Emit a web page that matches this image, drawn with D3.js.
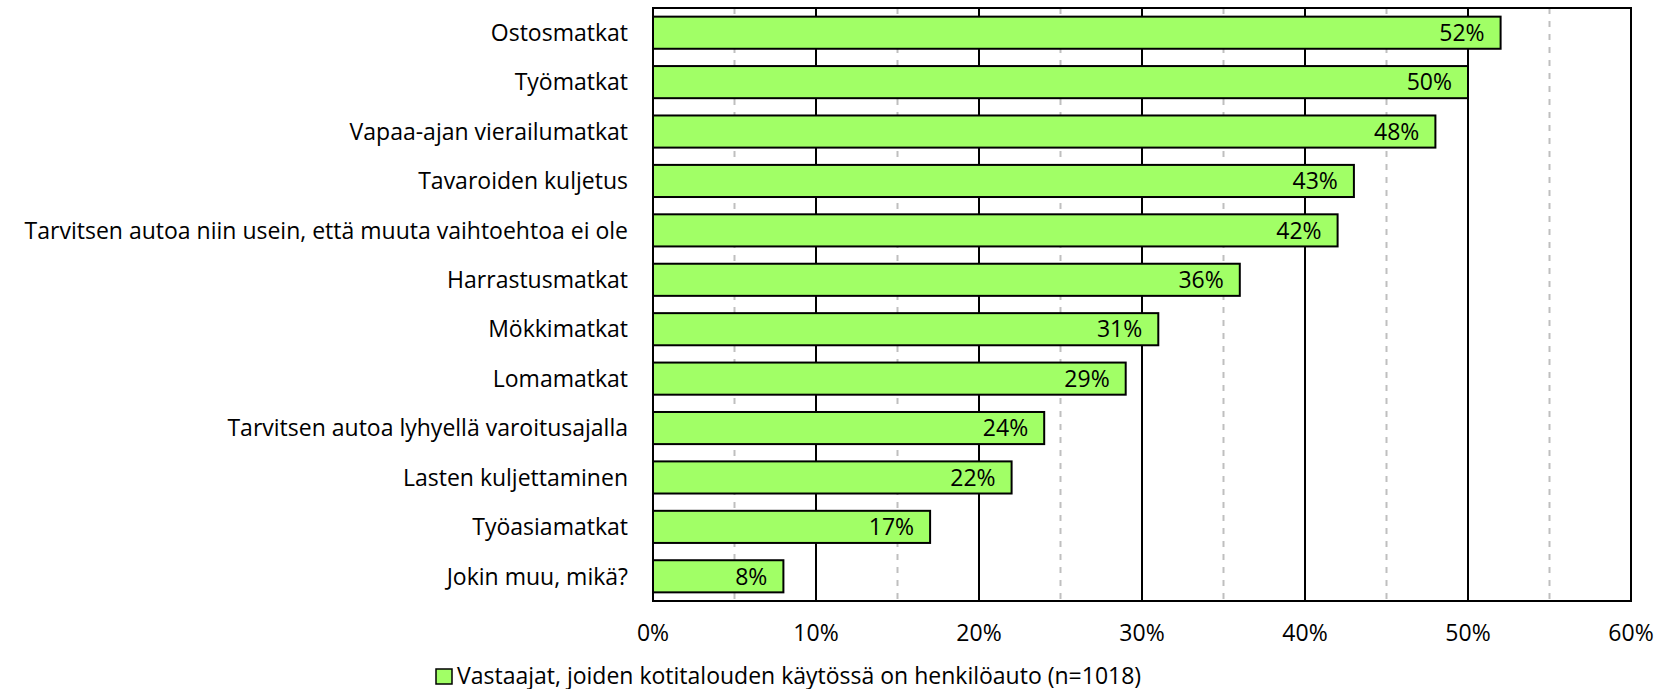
<!DOCTYPE html>
<html>
<head>
<meta charset="utf-8">
<script src="https://cdn.jsdelivr.net/npm/d3@7"></script>
<style>
  body { margin: 0; background: #fff; }
  text { font-family: "Open Sans", Lato, sans-serif; fill: #000; }
</style>
</head>
<body>
<script>
var categories = ["Ostosmatkat", "Työmatkat", "Vapaa-ajan vierailumatkat", "Tavaroiden kuljetus",
  "Tarvitsen autoa niin usein, että muuta vaihtoehtoa ei ole", "Harrastusmatkat", "Mökkimatkat",
  "Lomamatkat", "Tarvitsen autoa lyhyellä varoitusajalla", "Lasten kuljettaminen", "Työasiamatkat",
  "Jokin muu, mikä?"];
var values = [52, 50, 48, 43, 42, 36, 31, 29, 24, 22, 17, 8];
var majorTicks = [0, 10, 20, 30, 40, 50, 60];
var minorTicks = [5, 15, 25, 35, 45, 55];
var seriesName = "Vastaajat, joiden kotitalouden käytössä on henkilöauto (n=1018)";

var width = 1670, height = 689;
var plotLeft = 653, plotRight = 1631, plotTop = 8, plotBottom = 601;
var fontSize = "23px";

var svg = d3.select("body")
  .append("svg")
  .attr("width", width)
  .attr("height", height);

var x = d3.scaleLinear().domain([0, 60]).range([plotLeft, plotRight]);
var y = d3.scaleBand().domain(categories).range([plotTop, plotBottom]).paddingInner(0.35).paddingOuter(0.175);

// dashed minor gridlines
svg.selectAll(".minor")
  .data(minorTicks)
  .enter().append("line")
  .attr("x1", d => x(d)).attr("x2", d => x(d))
  .attr("y1", plotTop).attr("y2", plotBottom)
  .style("stroke", "#bfbfbf")
  .style("stroke-width", 2)
  .style("stroke-dasharray", "6,7");

// solid major gridlines
svg.selectAll(".major")
  .data(majorTicks)
  .enter().append("line")
  .attr("x1", d => x(d)).attr("x2", d => x(d))
  .attr("y1", plotTop).attr("y2", plotBottom)
  .style("stroke", "#000")
  .style("stroke-width", 2);

// plot border
svg.append("rect")
  .attr("x", plotLeft).attr("y", plotTop)
  .attr("width", plotRight - plotLeft).attr("height", plotBottom - plotTop)
  .style("fill", "none")
  .style("stroke", "#000")
  .style("stroke-width", 2);

// bars
svg.selectAll(".bar")
  .data(values)
  .enter().append("rect")
  .attr("x", x(0))
  .attr("y", (d, i) => y(categories[i]))
  .attr("width", d => x(d) - x(0))
  .attr("height", y.bandwidth())
  .style("fill", "#a1ff66")
  .style("stroke", "#000")
  .style("stroke-width", 2);

// value labels
svg.selectAll(".val")
  .data(values)
  .enter().append("text")
  .attr("x", d => x(d) - 16)
  .attr("y", (d, i) => y(categories[i]) + y.bandwidth() / 2)
  .attr("dy", "0.36em")
  .attr("text-anchor", "end")
  .style("font-size", fontSize)
  .text(d => d + "%");

// category labels
svg.selectAll(".cat")
  .data(categories)
  .enter().append("text")
  .attr("x", plotLeft - 25)
  .attr("y", d => y(d) + y.bandwidth() / 2)
  .attr("dy", "0.36em")
  .attr("text-anchor", "end")
  .style("font-size", fontSize)
  .text(d => d);

// x tick labels
svg.selectAll(".xlab")
  .data(majorTicks)
  .enter().append("text")
  .attr("x", d => x(d))
  .attr("y", 641)
  .attr("text-anchor", "middle")
  .style("font-size", fontSize)
  .text(d => d + "%");

// legend
svg.append("rect")
  .attr("x", 436).attr("y", 669)
  .attr("width", 16).attr("height", 15)
  .style("fill", "#a1ff66")
  .style("stroke", "#000")
  .style("stroke-width", 1.5);

svg.append("text")
  .attr("x", 457)
  .attr("y", 684)
  .style("font-size", fontSize)
  .text(seriesName);
</script>
</body>
</html>
